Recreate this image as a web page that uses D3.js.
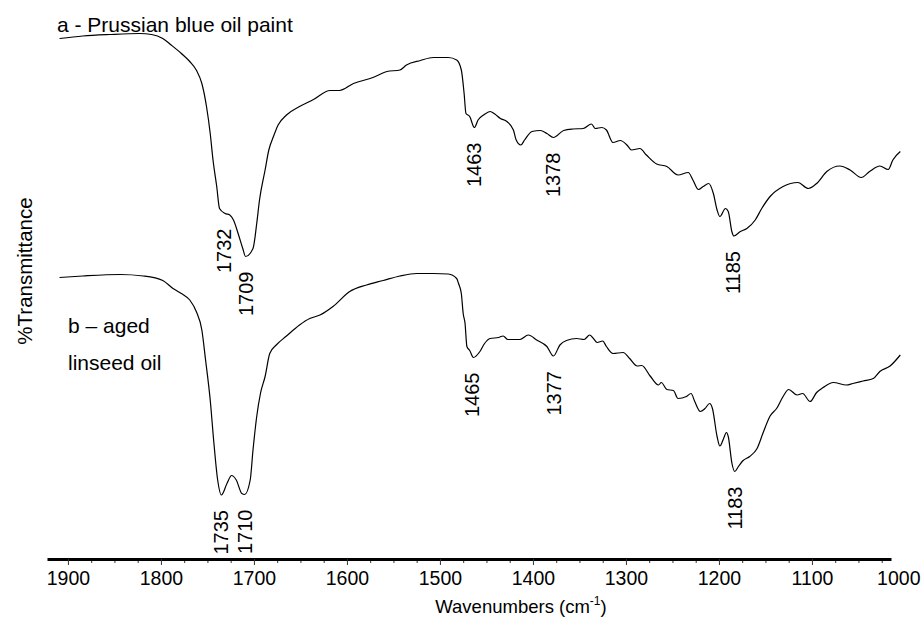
<!DOCTYPE html>
<html>
<head>
<meta charset="utf-8">
<script src="https://cdn.jsdelivr.net/npm/d3@7/dist/d3.min.js"></script>
<style>
  html, body { margin: 0; padding: 0; background: #fff; }
  svg { display: block; font-family: "Liberation Sans", Arial, Helvetica, sans-serif; }
</style>
</head>
<body>
<svg id="chart" width="924" height="619"></svg>
<script>
// ---------- DATA ----------
// Spectrum a: Prussian blue oil paint  [wavenumber (cm-1), transmittance (arb. units)]
const spectrumA = [
  [1909,104.1],[1884,104.6],[1855,104.9],[1823,105.1],[1810,104.9],[1798,104.1],[1789,102.8],[1778,101.1],
  [1769,99.5],[1762,97.8],[1756,95.1],[1751,90.5],[1747,85.1],[1744,79.8],[1740,74.5],[1737,70.1],
  [1731,69.1],[1726,68.8],[1722,67.8],[1717,65.1],[1712,62.1],[1709,60.5],[1701,62.1],[1697,67.1],
  [1694,71.8],[1688,77.8],[1684,81.8],[1679,84.5],[1674,86.8],[1665,88.8],[1651,90.5],[1636,91.9],
  [1618,93.7],[1608,93.7],[1593,95.1],[1572,96.3],[1557,97.5],[1543,97.8],[1536,98.8],[1521,99.7],
  [1507,100.3],[1491,100.3],[1482,99.8],[1477,97.8],[1474,93.1],[1472,89.1],[1468,88.5],[1463,86.3],
  [1459,87.8],[1453,88.8],[1446,89.5],[1441,89.0],[1435,88.1],[1428,87.5],[1421,85.8],[1418,83.8],
  [1413,82.8],[1409,83.8],[1401,85.5],[1392,85.7],[1385,85.1],[1378,84.3],[1367,85.7],[1357,86.0],
  [1346,86.1],[1337,87.0],[1333,86.1],[1326,86.3],[1321,85.8],[1314,83.3],[1306,83.7],[1299,82.8],
  [1294,81.8],[1285,82.1],[1278,80.8],[1267,79.0],[1256,78.5],[1244,76.8],[1233,77.3],[1228,75.8],
  [1222,73.9],[1217,74.5],[1211,75.1],[1206,73.1],[1202,69.8],[1199,68.5],[1193,70.1],[1190,69.5],
  [1186,65.4],[1184,64.6],[1177,65.5],[1170,66.1],[1161,67.8],[1154,70.1],[1145,72.5],[1131,74.5],
  [1115,75.3],[1104,74.1],[1095,75.1],[1084,77.5],[1070,78.6],[1059,77.8],[1047,76.3],[1038,77.5],
  [1027,78.6],[1018,77.9],[1013,79.8],[1005,81.5]
];
// Spectrum b: aged linseed oil
const spectrumB = [
  [1909,56.3],[1884,56.6],[1844,56.9],[1819,56.6],[1798,55.7],[1787,54.1],[1778,53.1],[1769,51.8],
  [1762,49.5],[1756,45.8],[1752,39.8],[1747,31.8],[1743,23.1],[1739,15.8],[1735,12.8],[1729,15.1],
  [1724,16.7],[1719,15.8],[1713,13.1],[1710,12.9],[1704,15.8],[1701,21.8],[1697,28.5],[1693,33.1],
  [1688,36.5],[1683,41.1],[1676,42.8],[1665,44.6],[1651,46.8],[1640,48.1],[1629,48.8],[1615,50.5],
  [1597,53.5],[1579,54.8],[1561,55.7],[1543,56.6],[1525,57.1],[1507,57.1],[1491,57.0],[1482,56.1],
  [1480,55.1],[1477,53.1],[1475,49.1],[1473,47.1],[1471,42.5],[1468,41.7],[1464,40.3],[1457,41.5],
  [1452,43.1],[1446,44.1],[1437,44.3],[1432,44.6],[1427,43.9],[1414,43.9],[1405,44.8],[1396,43.8],
  [1385,42.5],[1378,40.6],[1371,42.8],[1364,43.7],[1353,44.1],[1345,43.9],[1339,44.8],[1335,44.1],
  [1331,43.3],[1325,43.6],[1321,42.5],[1314,41.1],[1303,41.3],[1296,40.1],[1288,38.6],[1283,38.7],
  [1274,36.6],[1265,34.8],[1262,35.3],[1256,33.9],[1249,33.7],[1244,32.1],[1235,32.5],[1230,33.1],
  [1226,31.5],[1220,29.5],[1215,30.1],[1210,31.1],[1207,30.1],[1202,24.5],[1199,22.6],[1195,24.1],
  [1192,25.3],[1190,24.5],[1186,19.1],[1183,17.5],[1179,18.5],[1174,19.7],[1167,20.5],[1159,22.1],
  [1152,25.5],[1145,28.6],[1138,30.1],[1131,32.5],[1125,33.9],[1116,32.8],[1110,33.1],[1102,31.5],
  [1095,33.3],[1088,34.3],[1077,35.3],[1063,34.8],[1056,35.1],[1045,35.6],[1034,36.1],[1027,37.5],
  [1016,38.6],[1005,40.8]
];
// Peak annotations
const peaksA = [1732, 1709, 1463, 1378, 1185];
const peaksB = [1735, 1710, 1465, 1377, 1183];
// Axis ticks
const majorTicks = [1900, 1800, 1700, 1600, 1500, 1400, 1300, 1200, 1100, 1000];
const minorTicks = d3.range(1900, 1024, -25);
// Texts
const titleA = "a - Prussian blue oil paint";
const titleB = ["b \u2013 aged", "linseed oil"];
const xTitle = "Wavenumbers (cm";
const yTitle = "%Transmittance";
const xDomain = [1922.5, 1015];
const yDomain = [0, 108];

// ---------- CHART ----------
const W = 924, H = 619;
const svg = d3.select("#chart");
const axisY = 559;
const x = d3.scaleLinear().domain(xDomain).range([47, 891]);
const y = d3.scaleLinear().domain(yDomain).range([axisY, 19]);

const line = d3.line().x(d => x(d[0])).y(d => y(d[1])).curve(d3.curveMonotoneX);

[spectrumA, spectrumB].forEach(s => {
  svg.append("path")
    .datum(s)
    .attr("d", line)
    .attr("fill", "none")
    .attr("stroke", "#000")
    .attr("stroke-width", 1.2)
    .attr("stroke-linejoin", "round");
});

// value at a wavenumber: lowest nearby point or interpolated value
function troughAt(s, w) {
  let best = Infinity;
  for (let i = 0; i < s.length - 1; i++) {
    const a = s[i], b = s[i + 1];
    if (a[0] >= w && b[0] <= w) {
      const t = (a[0] - w) / (a[0] - b[0]);
      best = Math.min(best, a[1] + t * (b[1] - a[1]));
    }
  }
  s.forEach(p => { if (Math.abs(p[0] - w) <= 3) best = Math.min(best, p[1]); });
  return best;
}

function drawPeaks(s, peaks) {
  peaks.forEach(p => {
    const px = x(p) + 7;
    const py = y(troughAt(s, p)) + 15;
    svg.append("text")
      .attr("transform", `translate(${px},${py}) rotate(-90)`)
      .attr("text-anchor", "end")
      .attr("font-size", 20)
      .attr("fill", "#000")
      .text(p);
  });
}
drawPeaks(spectrumA, peaksA);
drawPeaks(spectrumB, peaksB);

// X axis
const minorOnly = minorTicks.filter(t => t % 100 !== 0);
const gMinor = svg.append("g").attr("transform", `translate(0,${axisY})`)
  .call(d3.axisBottom(x).tickValues(minorOnly).tickSize(4).tickSizeOuter(0).tickFormat(""));
gMinor.select(".domain").remove();
gMinor.selectAll(".tick line").attr("stroke", "#333");

const gAxis = svg.append("g").attr("transform", `translate(0,${axisY})`)
  .call(d3.axisBottom(x).tickValues(majorTicks).tickSize(6).tickPadding(6).tickSizeOuter(0).tickFormat(d3.format("d")));
gAxis.select(".domain").attr("stroke", "#000").attr("stroke-width", 3);
gAxis.selectAll(".tick line").attr("stroke", "#333")
  .filter(d => x(d) > 891).remove();
gAxis.selectAll(".tick text")
  .attr("font-size", 19.5)
  .attr("font-family", "'Liberation Sans', Arial, sans-serif")
  .attr("fill", "#000")
  .each(function(d) {
    const len = this.getComputedTextLength();
    const cx = x(d);
    if (cx + len / 2 > W - 4) d3.select(this).attr("dx", (W - 4 - len / 2) - cx);
  });

// X title
const xt = svg.append("text")
  .attr("x", 521).attr("y", 613)
  .attr("text-anchor", "middle")
  .attr("font-size", 18.5)
  .attr("fill", "#000");
xt.append("tspan").text(xTitle);
xt.append("tspan").attr("font-size", 12).attr("dy", -8).text("-1");
xt.append("tspan").attr("dy", 8).text(")");

// Y title
svg.append("text")
  .attr("transform", `translate(32,271) rotate(-90)`)
  .attr("text-anchor", "middle")
  .attr("font-size", 20.5)
  .attr("fill", "#000")
  .text(yTitle);

// Series labels
svg.append("text")
  .attr("x", 57).attr("y", 32)
  .attr("font-size", 21)
  .attr("fill", "#000")
  .text(titleA);
titleB.forEach((t, i) => {
  svg.append("text")
    .attr("x", 68).attr("y", 333 + i * 37)
    .attr("font-size", 21)
    .attr("fill", "#000")
    .text(t);
});
</script>
</body>
</html>
